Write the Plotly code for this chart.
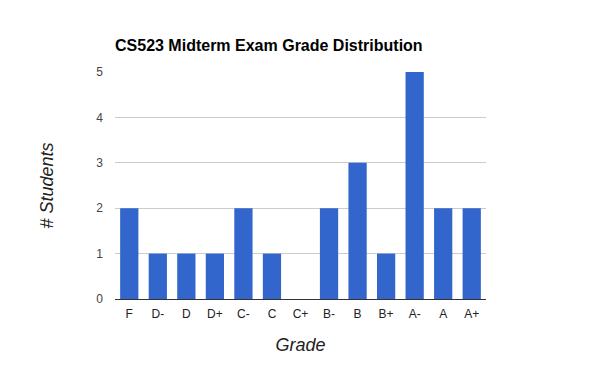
import plotly.graph_objects as go

grades = ["F", "D-", "D", "D+", "C-", "C", "C+", "B-", "B", "B+", "A-", "A", "A+"]
students = [2, 1, 1, 1, 2, 1, 0, 2, 3, 1, 5, 2, 2]
y_ticks = [0, 1, 2, 3, 4, 5]

FONT = "Arial, Liberation Sans, sans-serif"
OFF = 8  # default body margin of the page

fig = go.Figure(go.Bar(x=grades, y=students, marker=dict(color="#3366cc", line=dict(width=0))))

fig.update_layout(
    width=600, height=371,
    margin=dict(l=115 - OFF, r=114 + OFF, t=72 - OFF, b=72 + OFF),
    paper_bgcolor="white", plot_bgcolor="white",
    bargap=0.36,
    showlegend=False,
    font=dict(family=FONT, size=12, color="#222"),
    title=dict(text="<b>CS523 Midterm Exam Grade Distribution</b>",
               xref="container", yref="container",
               x=(115 - OFF) / 600, xanchor="left",
               y=1 - (45 - OFF) / 371, yanchor="middle",
               font=dict(family=FONT, size=16, color="#000")),
)
fig.update_xaxes(
    type="category", showgrid=False, showline=True, linecolor="#333", linewidth=1,
    ticks="", tickfont=dict(family=FONT, size=12, color="#222"), ticklabelstandoff=4,
    title=dict(text="<i>Grade</i>", font=dict(family=FONT, size=18, color="#222"), standoff=17),
)
fig.update_yaxes(
    range=[0, 5], tickvals=y_ticks, showgrid=True, gridcolor="#cccccc", gridwidth=1,
    zeroline=False, showline=False, ticks="",
    tickfont=dict(family=FONT, size=12, color="#444"), ticklabelstandoff=11,
    title=dict(text="<i># Students</i>", font=dict(family=FONT, size=18, color="#222"), standoff=38),
)

fig.write_html("out.html")
